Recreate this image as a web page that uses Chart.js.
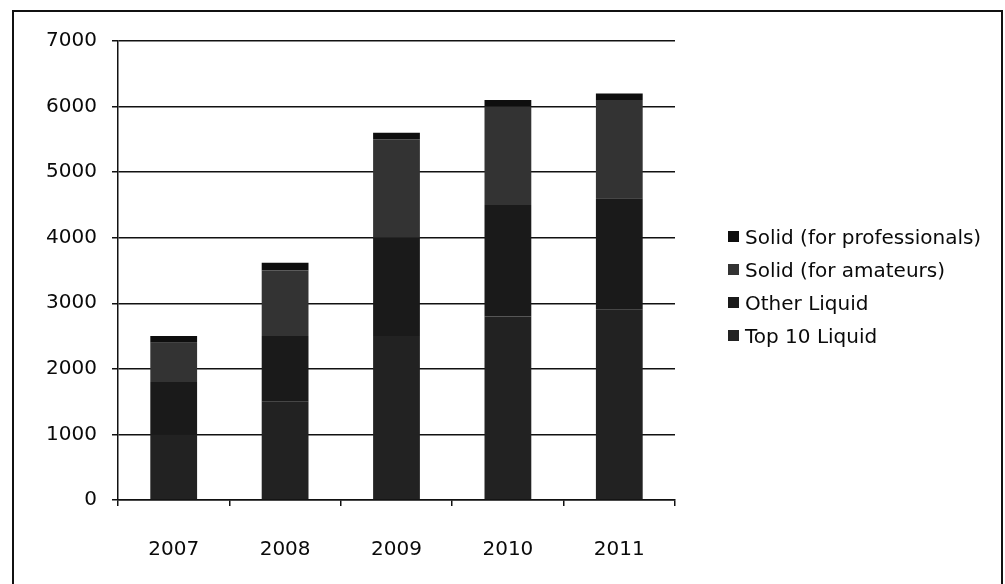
<!DOCTYPE html>
<html>
<head>
<meta charset="utf-8">
<script src="https://cdn.jsdelivr.net/npm/chart.js@4.4.1/dist/chart.umd.min.js"></script>
<style>
  html, body { margin: 0; padding: 0; background: #fff; }
  #wrap { position: relative; width: 1005px; height: 584px; overflow: hidden; }
  #frame { position: absolute; left: 12px; top: 10px; width: 991px; height: 600px; border: 2px solid #111; box-sizing: border-box; }
  #chart { position: absolute; left: 0; top: 0; }
  #legend { position: absolute; left: 728px; top: 220px; font-family: "DejaVu Sans", sans-serif; font-size: 20px; color: #0a0a0a; }
  .item { height: 33px; display: flex; align-items: center; }
  .box { width: 11px; height: 11px; margin-right: 6px; }
</style>
</head>
<body>
<div id="wrap">
  <div id="frame"></div>
  <canvas id="chart" width="1005" height="584"></canvas>
  <div id="legend"></div>
</div>
<script>
const years = ['2007', '2008', '2009', '2010', '2011'];
const top10Liquid  = [1000, 1500, 2500, 2800, 2900];
const otherLiquid  = [800, 1000, 1500, 1700, 1700];
const solidAmateur = [600, 1000, 1500, 1500, 1500];
const solidPro     = [100, 120, 100, 100, 100];
const yTicks = [0, 1000, 2000, 3000, 4000, 5000, 6000, 7000];

const series = [
  { label: 'Top 10 Liquid', data: top10Liquid, color: '#222222' },
  { label: 'Other Liquid', data: otherLiquid, color: '#1a1a1a' },
  { label: 'Solid (for amateurs)', data: solidAmateur, color: '#333333' },
  { label: 'Solid (for professionals)', data: solidPro, color: '#0e0e0e' },
];

const font = { family: '"DejaVu Sans", sans-serif', size: 20 };

new Chart(document.getElementById('chart'), {
  type: 'bar',
  data: {
    labels: years,
    datasets: series.map(function(s) {
      return {
        label: s.label,
        data: s.data,
        backgroundColor: s.color,
        borderWidth: 0,
        barPercentage: 0.42,
        categoryPercentage: 1
      };
    })
  },
  options: {
    responsive: false,
    animation: false,
    layout: { padding: { left: 10, top: 41, right: 330, bottom: 0 } },
    plugins: { legend: { display: false }, tooltip: { enabled: false } },
    scales: {
      x: {
        stacked: true,
        afterFit: function(scale) { scale.height = 84; },
        grid: { offset: true, drawOnChartArea: false, drawTicks: true, tickLength: 6, color: '#111', lineWidth: 1.5 },
        border: { display: true, color: '#111', width: 1.5 },
        ticks: { color: '#0a0a0a', font: font, padding: 32 }
      },
      y: {
        stacked: true,
        min: 0,
        max: 7000,
        afterFit: function(scale) { scale.width = 108; },
        afterBuildTicks: function(scale) { scale.ticks = yTicks.map(function(v) { return { value: v }; }); },
        grid: { color: '#111', lineWidth: 1.5, tickLength: 6 },
        border: { display: true, color: '#111', width: 1.5 },
        ticks: { color: '#0a0a0a', font: font, padding: 15, callback: function(v) { return String(v); } }
      }
    }
  }
});

// legend, top entry first
const legend = document.getElementById('legend');
series.slice().reverse().forEach(function(s) {
  legend.innerHTML += '<div class="item"><div class="box" style="background:' + s.color + '"></div>' + s.label + '</div>';
});
</script>
</body>
</html>
